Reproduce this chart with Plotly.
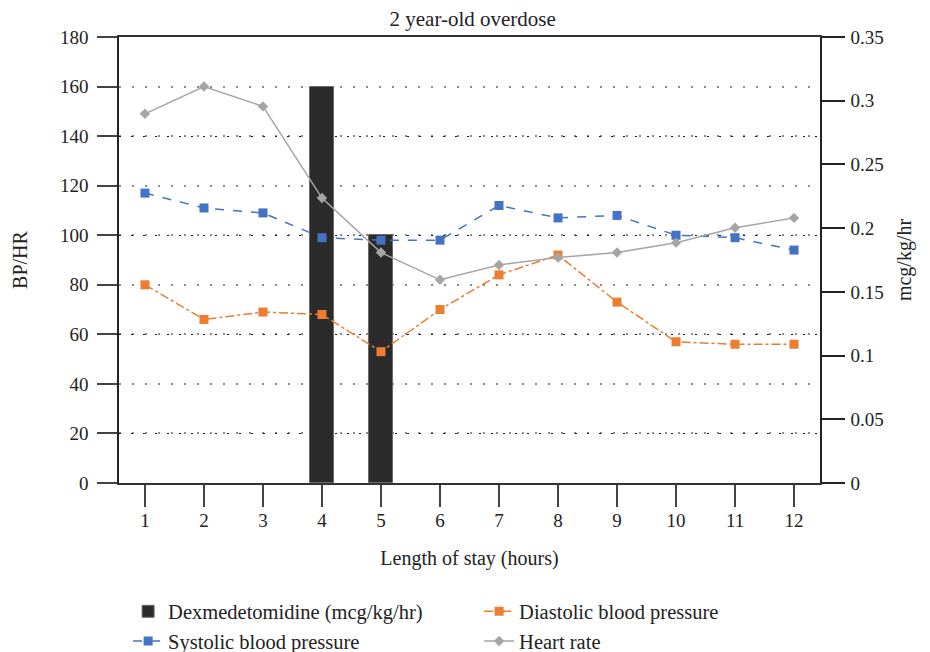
import plotly.graph_objects as go

hours = [1, 2, 3, 4, 5, 6, 7, 8, 9, 10, 11, 12]
dex_hours = [4, 5]
dex_values = [0.311, 0.195]
systolic = [117, 111, 109, 99, 98, 98, 112, 107, 108, 100, 99, 94]
diastolic = [80, 66, 69, 68, 53, 70, 84, 92, 73, 57, 56, 56]
heart_rate = [149, 160, 152, 115, 93, 82, 88, 91, 93, 97, 103, 107]

FONT = "Liberation Serif"
TXT = "#222222"

fig = go.Figure()

# Bars on the primary (right-side) axis so that the lines are drawn above them
fig.add_trace(go.Bar(
    x=dex_hours, y=dex_values, name="Dexmedetomidine (mcg/kg/hr)",
    yaxis="y", width=0.41,
    marker=dict(color="#2b2b2b", line=dict(color="#6a6a6a", width=1)),
))
fig.add_trace(go.Scatter(
    x=hours, y=diastolic, name="Diastolic blood pressure", mode="lines+markers",
    yaxis="y2",
    line=dict(color="#ED7D31", width=1.5, dash="dashdot"),
    marker=dict(symbol="square", size=9, color="#ED7D31"),
))
fig.add_trace(go.Scatter(
    x=hours, y=systolic, name="Systolic blood pressure", mode="lines+markers",
    yaxis="y2",
    line=dict(color="#4472C4", width=1.5, dash="dash"),
    marker=dict(symbol="square", size=9, color="#4472C4"),
))
fig.add_trace(go.Scatter(
    x=hours, y=heart_rate, name="Heart rate", mode="lines+markers",
    yaxis="y2",
    line=dict(color="#A5A5A5", width=1.5),
    marker=dict(symbol="diamond", size=8, color="#A5A5A5"),
))
# invisible trace to activate the yaxis3 grid overlay
fig.add_trace(go.Scatter(x=[hours[0]], y=[None], yaxis="y3", showlegend=False,
                         hoverinfo="skip", mode="markers"))

fig.update_layout(
    width=922, height=644,
    margin=dict(l=111, r=110, t=29, b=169, autoexpand=False),
    paper_bgcolor="white", plot_bgcolor="white",
    font=dict(family=FONT, size=19, color=TXT),
    title=dict(text="2 year-old overdose", x=0.504, xanchor="center",
               yref="container", y=0.983, yanchor="middle",
               font=dict(size=21, family=FONT, color=TXT)),
    showlegend=True,
    legend=dict(orientation="h", x=0.013, xanchor="left",
                yref="container", y=0.094, yanchor="top",
                entrywidth=306, entrywidthmode="pixels",
                font=dict(size=20.5, family=FONT, color=TXT),
                tracegroupgap=0, traceorder="normal"),
    xaxis=dict(
        automargin=False,
        range=[0.56, 12.44], tickmode="array", tickvals=hours,
        ticks="outside", ticklen=22, tickcolor="#444", tickwidth=1.5,
        ticklabelstandoff=-3,
        showline=True, linecolor="#333", linewidth=1.5, mirror=True,
        showgrid=False, zeroline=False,
        title=dict(text="Length of stay (hours)", standoff=21,
                   font=dict(size=20, family=FONT, color=TXT)),
        tickfont=dict(size=19, family=FONT, color=TXT),
    ),
    yaxis=dict(
        automargin=False,
        range=[0, 0.35], dtick=0.05, tick0=0, side="right",
        ticks="outside", ticklen=23, tickcolor="#222", tickwidth=1.5,
        ticklabelstandoff=2,
        showline=True, linecolor="#222", linewidth=1.5,
        showgrid=False, zeroline=False,
        title=dict(text="mcg/kg/hr", standoff=14,
                   font=dict(size=20, family=FONT, color=TXT)),
        tickfont=dict(size=19, family=FONT, color=TXT),
    ),
    yaxis2=dict(
        automargin=False,
        range=[0, 180], dtick=20, tick0=0, overlaying="y", side="left",
        ticks="outside", ticklen=20, tickcolor="#444", tickwidth=1.5,
        ticklabelstandoff=5,
        showline=True, linecolor="#222", linewidth=1.5,
        showgrid=True, gridcolor="#8c8c8c", griddash="2px,11px", gridwidth=2,
        zeroline=False,
        title=dict(text="BP/HR", standoff=27,
                   font=dict(size=20, family=FONT, color=TXT)),
        tickfont=dict(size=19, family=FONT, color=TXT),
    ),
    yaxis3=dict(
        automargin=False,
        range=[0, 180], tick0=20, dtick=40, overlaying="y", side="left",
        showticklabels=False, ticks="", showline=False,
        showgrid=True, gridcolor="#1a1a1a", griddash="1.5px,10.5px", gridwidth=1.2,
        zeroline=False,
    ),
    bargap=0,
)

fig.write_html("out.html")
